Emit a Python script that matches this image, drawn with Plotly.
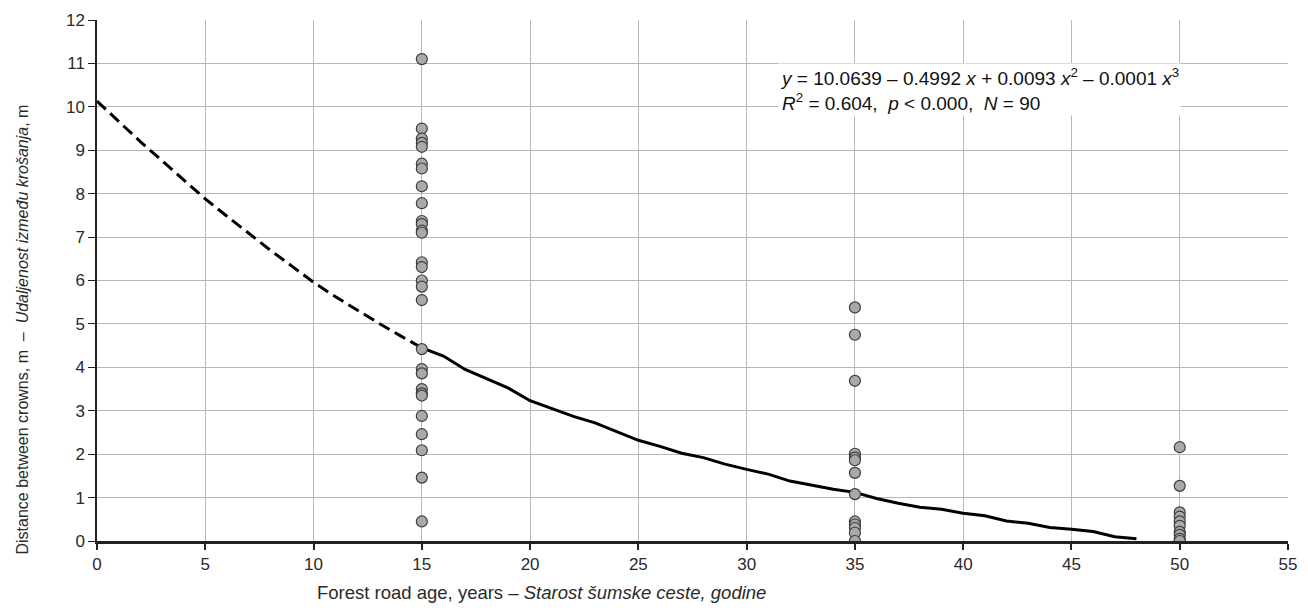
import plotly.graph_objects as go

# Observed points (forest road age, distance between crowns)
age15_y = [11.1, 9.5, 9.27, 9.17, 9.08, 8.69, 8.58, 8.17, 7.78, 7.37, 7.3, 7.15, 7.1,
           6.42, 6.31, 6.0, 5.86, 5.55, 4.42, 3.96, 3.86, 3.5, 3.4, 3.35, 2.88, 2.46,
           2.09, 1.46, 0.45]
age35_y = [5.38, 4.75, 3.69, 2.01, 1.92, 1.86, 1.57, 1.08, 0.45, 0.38, 0.3, 0.19, 0.0]
age50_y = [2.16, 1.27, 0.66, 0.56, 0.45, 0.35, 0.21, 0.14, 0.05, 0.0]

# Fitted curve
dash_x = [0, 1, 2, 3, 4, 5, 6, 7, 8, 9, 10, 11, 12, 13, 14, 15]
dash_y = [10.13, 9.66, 9.20, 8.76, 8.32, 7.88, 7.48, 7.08, 6.70, 6.33, 5.96, 5.63,
          5.32, 5.02, 4.73, 4.45]
solid_x = [15, 16, 17, 18, 19, 20, 21, 22, 23, 24, 25, 26, 27, 28, 29, 30, 31, 32,
           33, 34, 35, 36, 37, 38, 39, 40, 41, 42, 43, 44, 45, 46, 47, 48]
solid_y = [4.45, 4.26, 3.95, 3.73, 3.52, 3.23, 3.05, 2.87, 2.72, 2.52, 2.32, 2.18,
           2.02, 1.92, 1.77, 1.65, 1.54, 1.38, 1.29, 1.19, 1.12, 0.98, 0.87, 0.78,
           0.73, 0.64, 0.58, 0.46, 0.41, 0.31, 0.27, 0.22, 0.10, 0.05]

x_ticks = list(range(0, 56, 5))
y_ticks = list(range(0, 13))

FONT = "Liberation Sans, Arial, sans-serif"
TXT = "#2a2a2a"

fig = go.Figure()
fig.add_trace(go.Scatter(x=dash_x, y=dash_y, mode="lines",
                         line=dict(color="black", width=3, dash="12px,6px"),
                         hoverinfo="skip", showlegend=False))
fig.add_trace(go.Scatter(x=solid_x, y=solid_y, mode="lines",
                         line=dict(color="black", width=3),
                         hoverinfo="skip", showlegend=False))
marker = dict(size=11, color="#a9a9a9", line=dict(color="#3c3c3c", width=1.2))
for xv, ys in ((15, age15_y), (35, age35_y), (50, age50_y)):
    fig.add_trace(go.Scatter(x=[xv] * len(ys), y=ys, mode="markers",
                             marker=marker, showlegend=False))

fig.update_layout(
    width=1308, height=611,
    margin=dict(l=97, r=11, t=20, b=70),
    paper_bgcolor="white", plot_bgcolor="white",
    font=dict(family=FONT, size=16, color=TXT),
    xaxis=dict(range=[0, 55], tickvals=x_ticks, showgrid=True,
               gridcolor="#b8b8b8", gridwidth=1, zeroline=False,
               showline=True, linecolor="#222", linewidth=2.5,
               ticks="outside", ticklen=6, tickcolor="#222", tickwidth=1.5,
               tickfont=dict(family=FONT, size=17, color=TXT)),
    yaxis=dict(range=[0, 12], tickvals=y_ticks, showgrid=True,
               gridcolor="#b8b8b8", gridwidth=1, zeroline=False,
               showline=True, linecolor="#222", linewidth=1.5,
               ticks="outside", ticklen=7, tickcolor="#222", tickwidth=1.2,
               tickfont=dict(family=FONT, size=17, color=TXT)),
)

fig.add_annotation(
    xref="paper", yref="paper", x=-0.0625, y=0.405, textangle=-90,
    text="Distance between crowns, m  –  <i>Udaljenost između krošanja</i>, m",
    showarrow=False, xanchor="center", yanchor="middle",
    font=dict(family=FONT, size=16, color=TXT))
fig.add_annotation(
    xref="paper", yref="paper", x=0.373, y=-0.0998,
    text="Forest road age, years – <i>Starost šumske ceste, godine</i>",
    showarrow=False, xanchor="center", yanchor="middle",
    font=dict(family=FONT, size=18.5, color=TXT))
fig.add_annotation(
    xref="paper", yref="paper", x=0.5717, y=0.918,
    text=("<i>y</i> = 10.0639 – 0.4992 <i>x</i> + 0.0093 <i>x</i><sup>2</sup> – 0.0001 <i>x</i><sup>3</sup>"
          "<br><i>R</i><sup>2</sup> = 0.604,  <i>p</i> &lt; 0.000,  <i>N</i> = 90"),
    showarrow=False, xanchor="left", yanchor="top", align="left",
    bgcolor="white", borderpad=1,
    font=dict(family=FONT, size=19, color="#111"))

fig.write_html("out.html")
